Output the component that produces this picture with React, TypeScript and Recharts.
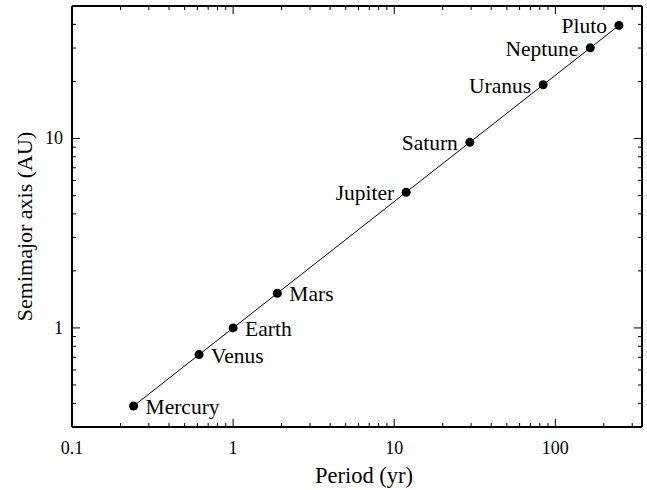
import React from "react";
import { ScatterChart, Scatter, XAxis, YAxis } from "recharts";

const planets = ["Mercury", "Venus", "Earth", "Mars", "Jupiter", "Saturn", "Uranus", "Neptune", "Pluto"];
const periods = [0.241, 0.615, 1.0, 1.881, 11.86, 29.46, 84.01, 164.8, 248.0];
const semimajor = [0.387, 0.723, 1.0, 1.524, 5.203, 9.537, 19.19, 30.07, 39.48];

const xTicks = [
  0.1, 0.2, 0.3, 0.4, 0.5, 0.6, 0.7, 0.8, 0.9,
  1, 2, 3, 4, 5, 6, 7, 8, 9,
  10, 20, 30, 40, 50, 60, 70, 80, 90,
  100, 200, 300,
];
const yTicks = [
  0.3, 0.4, 0.5, 0.6, 0.7, 0.8, 0.9,
  1, 2, 3, 4, 5, 6, 7, 8, 9,
  10, 20, 30, 40, 50,
];
const xMajor = [0.1, 1, 10, 100];
const yMajor = [1, 10];

const data = planets.map((name, i) => ({ name, period: periods[i], a: semimajor[i] }));

const FONT = "Liberation Serif";
const MAJOR = 8;
const MINOR = 4;

const isMajor = (list: number[], v: number) => list.some((m) => Math.abs(m - v) < 1e-9);

const BottomTick = (props: any) => {
  const { x, y, payload } = props;
  const v = payload.value;
  const major = isMajor(xMajor, v);
  return (
    <g>
      <path d={`M${x},${y}V${y - (major ? MAJOR : MINOR)}`} stroke="#000" strokeWidth={1} fill="none" />
      {major && (
        <text x={x} y={y + 27} textAnchor="middle" fontSize={18} style={{ fontFamily: FONT }} fill="#000">
          {String(v)}
        </text>
      )}
    </g>
  );
};

const TopTick = (props: any) => {
  const { x, y, payload } = props;
  const major = isMajor(xMajor, payload.value);
  return <path d={`M${x},${y}V${y + (major ? MAJOR : MINOR)}`} stroke="#000" strokeWidth={1} fill="none" />;
};

const LeftTick = (props: any) => {
  const { x, y, payload } = props;
  const v = payload.value;
  const major = isMajor(yMajor, v);
  return (
    <g>
      <path d={`M${x},${y}H${x + (major ? MAJOR : MINOR)}`} stroke="#000" strokeWidth={1} fill="none" />
      {major && (
        <text x={x - 9} y={y + 6} textAnchor="end" fontSize={18} style={{ fontFamily: FONT }} fill="#000">
          {String(v)}
        </text>
      )}
    </g>
  );
};

const RightTick = (props: any) => {
  const { x, y, payload } = props;
  const major = isMajor(yMajor, payload.value);
  return <path d={`M${x},${y}H${x - (major ? MAJOR : MINOR)}`} stroke="#000" strokeWidth={1} fill="none" />;
};

const XTitle = ({ viewBox }: any) => (
  <text
    x={viewBox.x + viewBox.width / 2 + 7}
    y={viewBox.y + 56}
    textAnchor="middle"
    fontSize={22.5}
    style={{ fontFamily: FONT }}
    fill="#000"
  >
    Period (yr)
  </text>
);

const YTitle = ({ viewBox }: any) => {
  const cx = 32;
  const cy = viewBox.y + viewBox.height / 2 + 10;
  return (
    <text
      x={cx}
      y={cy}
      transform={`rotate(-90 ${cx} ${cy})`}
      textAnchor="middle"
      fontSize={22}
      style={{ fontFamily: FONT }}
      fill="#000"
    >
      Semimajor axis (AU)
    </text>
  );
};

// dot plus its name: inner planets labelled on the right, outer on the left
const PlanetDot = ({ cx, cy, payload }: any) => {
  if (cx == null || cy == null) return null;
  const right = planets.indexOf(payload.name) < 4;
  return (
    <g>
      <circle cx={cx} cy={cy} r={4.5} fill="#000" />
      <text
        x={right ? cx + 12 : cx - 12}
        y={cy + 8}
        textAnchor={right ? "start" : "end"}
        fontSize={21.5}
        style={{ fontFamily: FONT }}
        fill="#000"
      >
        {payload.name}
      </text>
    </g>
  );
};

export default function App() {
  const axisLine = { stroke: "#000", strokeWidth: 2 };
  return (
    <div style={{ position: "absolute", left: 0, top: 0, width: 647, height: 490, background: "#fff" }}>
      <ScatterChart width={647} height={490} margin={{ top: 5, right: 4, bottom: 0, left: 0 }}>
        <XAxis
          xAxisId="bottom"
          type="number"
          dataKey="period"
          scale="log"
          domain={[0.1, 345]}
          allowDataOverflow
          ticks={xTicks}
          interval={0}
          height={63}
          tickSize={0}
          tickMargin={0}
          tick={(p: any) => <BottomTick {...p} />}
          axisLine={axisLine}
          label={<XTitle />}
        />
        <XAxis
          xAxisId="top"
          orientation="top"
          type="number"
          dataKey="period"
          scale="log"
          domain={[0.1, 345]}
          allowDataOverflow
          ticks={xTicks}
          interval={0}
          height={1}
          tickSize={0}
          tickMargin={0}
          tick={(p: any) => <TopTick {...p} />}
          axisLine={axisLine}
        />
        <YAxis
          yAxisId="left"
          type="number"
          dataKey="a"
          scale="log"
          domain={[0.3, 50]}
          allowDataOverflow
          ticks={yTicks}
          interval={0}
          width={72}
          tickSize={0}
          tickMargin={0}
          tick={(p: any) => <LeftTick {...p} />}
          axisLine={axisLine}
          label={<YTitle />}
        />
        <YAxis
          yAxisId="right"
          orientation="right"
          type="number"
          dataKey="a"
          scale="log"
          domain={[0.3, 50]}
          allowDataOverflow
          ticks={yTicks}
          interval={0}
          width={1}
          tickSize={0}
          tickMargin={0}
          tick={(p: any) => <RightTick {...p} />}
          axisLine={axisLine}
        />
        <Scatter
          data={data}
          xAxisId="bottom"
          yAxisId="left"
          line={{ stroke: "#000", strokeWidth: 1 }}
          lineType="joint"
          shape={<PlanetDot />}
          isAnimationActive={false}
        />
      </ScatterChart>
    </div>
  );
}
